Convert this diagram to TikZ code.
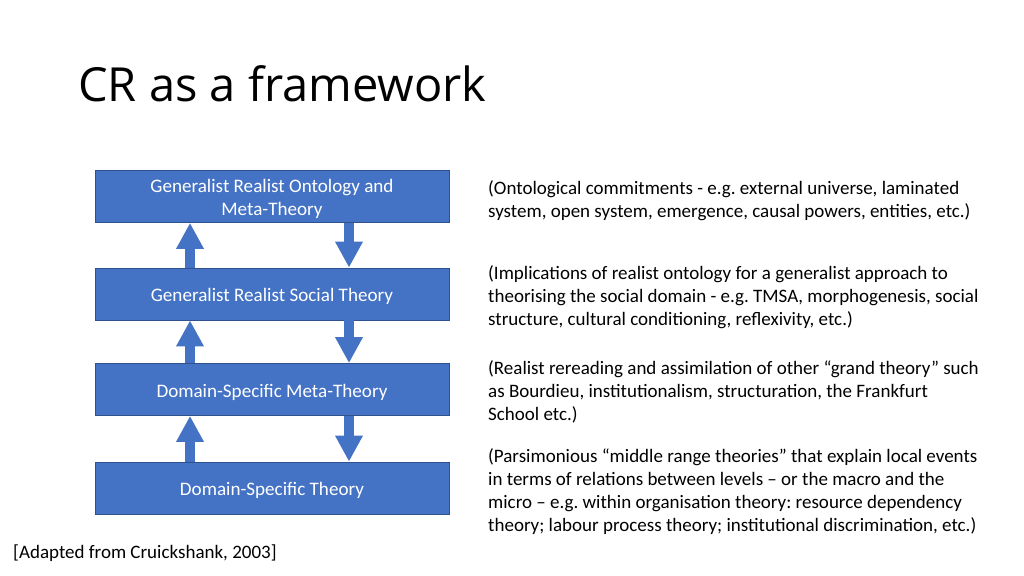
\documentclass[tikz,border=0pt]{standalone}
\usepackage{fontspec}
\setmainfont{Carlito}
\newfontfamily\titlefont{Open Sans}
\usetikzlibrary{arrows.meta}
\frenchspacing
\definecolor{boxblue}{HTML}{4472C4}
\definecolor{edgeblue}{HTML}{2F528F}
\tikzset{
	levelbox/.style={draw=edgeblue, line width=0.8pt, fill=boxblue, text=white, minimum width=354pt, minimum height=52pt, align=center, inner sep=0pt, font=\fontsize{19.1}{23}\selectfont},
	note/.style={anchor=base west, align=left, inner sep=0pt, font=\fontsize{19}{23}\selectfont},
	flow/.style={boxblue, line width=10pt, -{Triangle[width=26pt,length=26pt]}}
}
\begin{document}
\begin{tikzpicture}[x=1pt,y=-1pt]
	\useasboundingbox (0,0) rectangle (1024,575);
	\node[anchor=base west, inner sep=0pt, font=\titlefont\fontsize{47}{55}\selectfont] (title) at (78,102) {CR as a framework};
	\foreach \txt/\y/\h [count=\i] in {{Generalist Realist Ontology and\\Meta-Theory}/196.5/42,{Generalist Realist Social Theory}/294/19,{Domain-Specific Meta-Theory}/389.5/19,{Domain-Specific Theory}/488/19}% 4 tầng, \h = chiều cao chữ
	\node[levelbox, text height=\h pt] (b\i) at (272,\y) {\txt};
	\foreach \i/\j in {1/2,2/3,3/4}% mũi tên lên trái, xuống phải
	{\draw[flow] ([xshift=-82pt]b\j.north) -- ([xshift=-82pt]b\i.south);
	\draw[flow] ([xshift=77pt]b\i.south) -- ([xshift=77pt]b\j.north);}
	% base = dòng cuối
	\node[note] (n1) at (488,217) {(Ontological commitments - e.g. external universe, laminated\\system, open system, emergence, causal powers, entities, etc.)};
	\node[note] (n2) at (488,325) {(Implications of realist ontology for a generalist approach to\\theorising the social domain - e.g. TMSA, morphogenesis, social\\structure, cultural conditioning, reflexivity, etc.)};
	\node[note] (n3) at (488,420) {(Realist rereading and assimilation of other “grand theory” such\\as Bourdieu, institutionalism, structuration, the Frankfurt\\School etc.)};
	\node[note] (n4) at (488,531) {(Parsimonious “middle range theories” that explain local events\\in terms of relations between levels – or the macro and the\\micro – e.g. within organisation theory: resource dependency\\theory; labour process theory; institutional discrimination, etc.)};
	\node[note] (src) at (13,558) {[Adapted from Cruickshank, 2003]};
\end{tikzpicture}
\end{document}
